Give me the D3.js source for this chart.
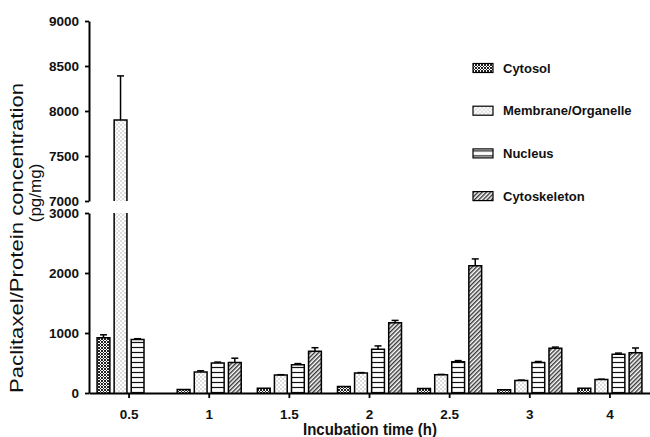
<!DOCTYPE html>
<html>
<head>
<meta charset="utf-8">
<script src="https://cdn.jsdelivr.net/npm/d3@7"></script>
<style>
  html, body { margin: 0; padding: 0; background: #fff; }
  svg { display: block; font-family: "Liberation Sans", Arial, sans-serif; }
</style>
</head>
<body>
<svg id="chart" width="650" height="437"></svg>
<script>
// ---- data ----
const times = ["0.5", "1", "1.5", "2", "2.5", "3", "4"];
const seriesNames = ["Cytosol", "Membrane/Organelle", "Nucleus", "Cytoskeleton"];
const cytosol        = [920, 60, 80, 110, 75, 55, 80];
const cytosolErr     = [50, 0, 0, 0, 0, 0, 0];
const membrane       = [7900, 350, 300, 335, 305, 210, 225];
const membraneErr    = [490, 20, 5, 5, 5, 5, 5];
const nucleus        = [890, 500, 470, 730, 520, 510, 645];
const nucleusErr     = [15, 15, 20, 55, 20, 15, 20];
const cytoskeleton   = [null, 510, 695, 1170, 2120, 745, 670];
const cytoskeletonErr= [0, 70, 60, 40, 115, 20, 80];
const lowTicks  = [0, 1000, 2000, 3000];
const highTicks = [7000, 7500, 8000, 8500, 9000];
const yTitle1 = "Paclitaxel/Protein concentration";
const yTitle2 = "(pg/mg)";
const xTitle = "Incubation time (h)";

const seriesVals = [cytosol, membrane, nucleus, cytoskeleton];
const seriesErrs = [cytosolErr, membraneErr, nucleusErr, cytoskeletonErr];
const patternIds = ["pCyto", "pMemb", "pNuc", "pSkel"];

const rows = [];
times.forEach((t, i) => {
  seriesNames.forEach((s, j) => {
    if (seriesVals[j][i] != null) rows.push({ t, s, j, v: seriesVals[j][i], e: seriesErrs[j][i] });
  });
});

const svg = d3.select("#chart");
const defs = svg.append("defs");

// patterns
const p1 = defs.append("pattern").attr("id", "pCyto").attr("patternUnits", "userSpaceOnUse").attr("width", 3).attr("height", 3);
p1.append("rect").attr("width", 3).attr("height", 3).attr("fill", "#fff");
p1.append("path").attr("d", "M0,0L3,3M3,0L0,3").attr("stroke", "#222").attr("stroke-width", 1);

const p2 = defs.append("pattern").attr("id", "pMemb").attr("patternUnits", "userSpaceOnUse").attr("width", 4).attr("height", 4);
p2.append("rect").attr("width", 4).attr("height", 4).attr("fill", "#fff");
p2.append("rect").attr("x", 0.5).attr("y", 0.5).attr("width", 1).attr("height", 1).attr("fill", "#777");
p2.append("rect").attr("x", 2.5).attr("y", 2.5).attr("width", 1).attr("height", 1).attr("fill", "#777");

const p3 = defs.append("pattern").attr("id", "pNuc").attr("patternUnits", "userSpaceOnUse").attr("width", 5).attr("height", 5);
p3.append("rect").attr("width", 5).attr("height", 5).attr("fill", "#fff");
p3.append("line").attr("x1", 0).attr("x2", 5).attr("y1", 2.5).attr("y2", 2.5).attr("stroke", "#111").attr("stroke-width", 1.2);

const p4 = defs.append("pattern").attr("id", "pSkel").attr("patternUnits", "userSpaceOnUse").attr("width", 3).attr("height", 3).attr("patternTransform", "rotate(45)");
p4.append("rect").attr("width", 3).attr("height", 3).attr("fill", "#fff");
p4.append("line").attr("x1", 0.75).attr("x2", 0.75).attr("y1", 0).attr("y2", 3).attr("stroke", "#222").attr("stroke-width", 1.3);

// scales
const x = d3.scaleBand().domain(times).range([89, 650]).paddingInner(0).paddingOuter(0);
const sub = d3.scaleBand().domain(seriesNames).range([-32, 32]).paddingInner(0.25);
const yLow = d3.scaleLinear().domain([0, 3000]).range([393, 213]);
const yHigh = d3.scaleLinear().domain([7000, 9000]).range([201, 21]);

const bx = d => x(d.t) + x.bandwidth() / 2 + sub(d.s);
const bw = sub.bandwidth();

// bars - lower segment (fill)
svg.append("g").selectAll("rect").data(rows).join("rect")
  .attr("x", bx)
  .attr("width", bw)
  .attr("y", d => yLow(Math.min(d.v, 3000)))
  .attr("height", d => yLow(0) - yLow(Math.min(d.v, 3000)))
  .attr("fill", d => `url(#${patternIds[d.j]})`);
// bars - lower segment (outline: open top when broken)
svg.append("g").selectAll("path").data(rows).join("path")
  .attr("d", d => {
    const x0 = bx(d), x1 = bx(d) + bw, y0 = yLow(0), yt = yLow(Math.min(d.v, 3000));
    return d.v > 3000
      ? `M${x0},${y0}V${yt}M${x1},${yt}V${y0}`
      : `M${x0},${y0}V${yt}H${x1}V${y0}`;
  })
  .attr("fill", "none").attr("stroke", "#000").attr("stroke-width", 1.5);

// bars - upper segment
const upper = rows.filter(d => d.v > 7000);
svg.append("g").selectAll("rect").data(upper).join("rect")
  .attr("x", bx)
  .attr("width", bw)
  .attr("y", d => yHigh(d.v))
  .attr("height", d => yHigh(7000) - yHigh(d.v))
  .attr("fill", d => `url(#${patternIds[d.j]})`);
svg.append("g").selectAll("path").data(upper).join("path")
  .attr("d", d => `M${bx(d)},${yHigh(7000)}V${yHigh(d.v)}H${bx(d) + bw}V${yHigh(7000)}`)
  .attr("fill", "none").attr("stroke", "#000").attr("stroke-width", 1.5);

// error bars
const yv = v => v > 7000 ? yHigh(v) : yLow(v);
const eg = svg.append("g").selectAll("g").data(rows.filter(d => d.e > 0)).join("g");
eg.append("line")
  .attr("x1", d => bx(d) + bw / 2).attr("x2", d => bx(d) + bw / 2)
  .attr("y1", d => yv(d.v)).attr("y2", d => yv(d.v + d.e))
  .attr("stroke", "#000").attr("stroke-width", 1.5);
eg.append("line")
  .attr("x1", d => bx(d) + bw / 2 - 3.5).attr("x2", d => bx(d) + bw / 2 + 3.5)
  .attr("y1", d => yv(d.v + d.e)).attr("y2", d => yv(d.v + d.e))
  .attr("stroke", "#000").attr("stroke-width", 1.5);

// axes
function styleAxis(g) {
  g.selectAll(".domain").attr("stroke", "#000").attr("stroke-width", 2);
  g.selectAll(".tick line").attr("stroke", "#000").attr("stroke-width", 1.8);
  g.selectAll(".tick text").attr("fill", "#111").style("font-size", "13.5px").style("font-weight", "bold")
   .style("font-family", '"Liberation Sans", Arial, sans-serif');
}
svg.append("g").attr("transform", "translate(89,0)")
  .call(d3.axisLeft(yLow).tickValues(lowTicks).tickFormat(d3.format("d")).tickSize(4).tickSizeOuter(0).tickPadding(6))
  .call(styleAxis);
svg.append("g").attr("transform", "translate(89,0)")
  .call(d3.axisLeft(yHigh).tickValues(highTicks).tickFormat(d3.format("d")).tickSize(4).tickSizeOuter(0).tickPadding(6))
  .call(styleAxis);
svg.append("g").attr("transform", "translate(0,393)")
  .call(d3.axisBottom(x).tickSize(5).tickSizeOuter(0).tickPadding(11))
  .call(styleAxis);

// axis titles
svg.append("text")
  .attr("transform", "translate(23,238) rotate(-90)")
  .attr("text-anchor", "middle")
  .attr("textLength", 310).attr("lengthAdjust", "spacingAndGlyphs")
  .style("font-size", "18px").attr("fill", "#111")
  .text(yTitle1);
svg.append("text")
  .attr("transform", "translate(41,193) rotate(-90)")
  .attr("text-anchor", "middle")
  .style("font-size", "17px").attr("fill", "#111")
  .text(yTitle2);
svg.append("text")
  .attr("x", 370).attr("y", 435)
  .attr("text-anchor", "middle")
  .attr("textLength", 134).attr("lengthAdjust", "spacingAndGlyphs")
  .style("font-size", "16px").style("font-weight", "bold").attr("fill", "#111")
  .text(xTitle);

// legend
const leg = svg.append("g").selectAll("g").data(seriesNames).join("g")
  .attr("transform", (d, i) => `translate(473,${68 + i * 42.7})`);
leg.append("rect").attr("x", 0).attr("y", -4.5).attr("width", 20).attr("height", 9)
  .attr("fill", (d, i) => `url(#${patternIds[i]})`).attr("stroke", "#000").attr("stroke-width", 1.2);
leg.append("text").attr("x", 30).attr("y", 0).attr("dy", "0.35em")
  .style("font-size", "13px").style("font-weight", "bold").attr("fill", "#111")
  .text(d => d);
</script>
</body>
</html>
